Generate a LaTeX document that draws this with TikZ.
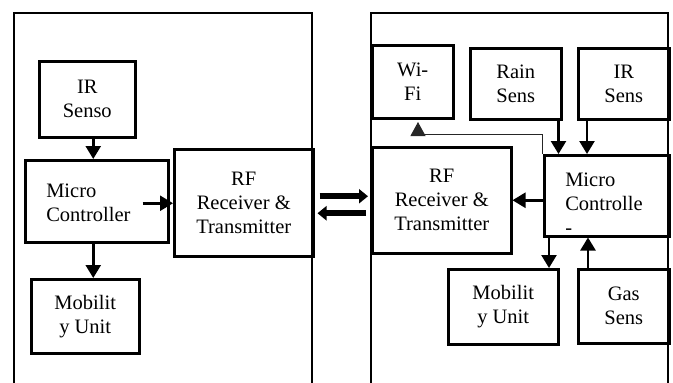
\documentclass[tikz,border=0pt]{standalone}
\usepackage{fontspec}
\setmainfont{Liberation Serif}
\usetikzlibrary{arrows.meta,calc}
\tikzset{
  blk/.style={draw, line width=2.5pt, inner sep=0pt, anchor=north west, align=center,
    font=\fontsize{20.5}{24}\selectfont},
  lblk/.style={blk, align=left, inner xsep=21pt},
  frame/.style={line width=2.5pt},
  arr/.style={line width=2.5pt, -{Triangle[width=15pt,length=13pt]}},
  thinarr/.style={line width=1pt, black!85, -{Triangle[width=15pt,length=14pt]}},
  bigarr/.style={line width=6pt, -{Triangle[width=14pt,length=9pt]}},
}
\begin{document}
\begin{tikzpicture}[x=1pt,y=-1pt]
\useasboundingbox (0,0) rectangle (673,383);
% frames
\coordinate (fL1) at (14,390); \coordinate (fL2) at (14,13);
\coordinate (fL3) at (312,13); \coordinate (fL4) at (312,390);
\coordinate (fR1) at (371,390); \coordinate (fR2) at (371,13);
\coordinate (fR3) at (668,13); \coordinate (fR4) at (668,390);
\draw[frame] (fL1) -- (fL2) -- (fL3) -- (fL4);
\draw[frame] (fR1) -- (fR2) -- (fR3) -- (fR4);
% left blocks
\node[blk, minimum width=96, minimum height=76] (irL) at (38,60) {IR\\Senso};
\node[lblk, minimum width=143, minimum height=82, text width=101] (mcL) at (24,159) {\rule{0pt}{17pt}Micro\\Controller};
\node[blk, minimum width=139, minimum height=107] (rfL) at (173,148) {RF\\Receiver \&\\Transmitter};
\node[blk, minimum width=108, minimum height=74] (moL) at (30,278) {Mobilit\\y Unit};
% right blocks
\node[blk, minimum width=81, minimum height=73] (wifi) at (371,44) {Wi-\\Fi};
\node[blk, minimum width=91, minimum height=71] (rain) at (469,47) {Rain\\Sens};
\node[blk, minimum width=91, minimum height=71] (irR) at (577,47) {IR\\Sens};
\node[blk, minimum width=139, minimum height=106] (rfR) at (371,146) {RF\\Receiver \&\\Transmitter};
\node[lblk, minimum width=125, minimum height=81, text width=83] (mcR) at (543,154) {\rule{0pt}{29pt}Micro\\Controlle\\-};
\node[blk, minimum width=110, minimum height=75] (moR) at (447,268) {Mobilit\\y Unit};
\node[blk, minimum width=91, minimum height=74] (gas) at (577,268) {Gas\\Sens};
% left arrows
\draw[arr] ([xshift=6pt]irL.south) -- ([xshift=6pt]irL.south |- mcL.north);
\draw[arr] ([shift={(-27pt,-2pt)}]mcL.east) -- ([yshift=-2pt]mcL.east -| rfL.west);
\draw[arr] ([xshift=-3.5pt]mcL.south) -- ([xshift=-3.5pt]mcL.south |- moL.north);
% right arrows
\draw[arr] ([xshift=-4pt]rain.south east) -- ([xshift=-4pt]rain.south east |- mcR.north);
\draw[arr] ([xshift=10pt]irR.south west) -- ([xshift=10pt]irR.south west |- mcR.north);
\draw[arr] ([yshift=-4.5pt]mcR.west) -- ([yshift=-4.5pt]mcR.west -| rfR.east);
\draw[arr] ([xshift=6pt]mcR.south west) -- ([xshift=6pt]mcR.south west |- moR.north);
\draw[arr] ([xshift=11pt]gas.north west) -- ([xshift=11pt]gas.north west |- mcR.south);
\coordinate (wtip) at (418,122);
\draw[thinarr] ([xshift=-1pt]mcR.north west) |- ([yshift=-12pt]wtip) -- (wtip);
% link arrows
\draw[bigarr] ([shift={(5pt,6.5pt)}]rfL.east) -- ([shift={(-3pt,4pt)}]rfR.west);
\draw[bigarr] ([shift={(-5pt,-13pt)}]rfR.west) -- ([shift={(3pt,-10.5pt)}]rfL.east);
\end{tikzpicture}
\end{document}
